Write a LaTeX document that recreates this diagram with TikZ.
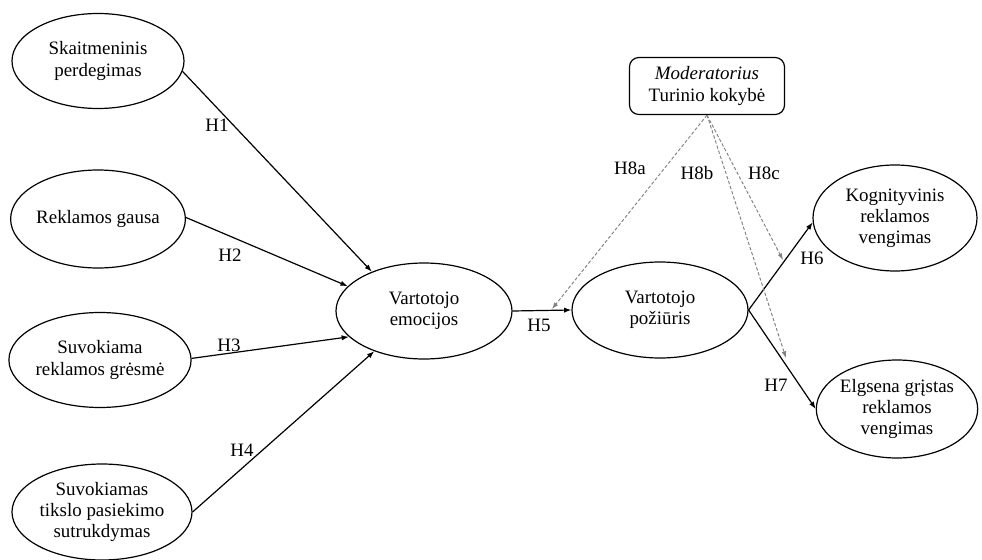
\documentclass[tikz,border=0pt]{standalone}
\usepackage{fontspec}
\setmainfont{Liberation Serif}
\newfontfamily\diagfont{Liberation Serif}
\usetikzlibrary{arrows.meta,shapes.geometric}
\begin{document}
\begin{tikzpicture}[x=0.75pt,y=-0.75pt,
  font=\diagfont\fontsize{14.2}{15.8}\selectfont,
  var/.style args={#1/#2}{draw,ellipse,line width=0.9pt,align=center,inner sep=0pt,
    minimum width=#1*0.75pt,minimum height=#2*0.75pt},
  link/.style={line width=0.9pt,-{Latex[length=5.5pt,width=4pt]}},
  modlink/.style={draw=gray,line width=0.7pt,dash pattern=on 2.5pt off 1.5pt,
    -{Latex[length=5pt,width=3.5pt]}},
  lab/.style={inner sep=0pt}
]
\useasboundingbox (0,0) rectangle (982,560);

% constructs
\node[var=172/95]  (s1)  at (98,61)   {Skaitmeninis\\perdegimas};
\node[var=172/98]  (s2)  at (98,219)  {Reklamos gausa};
\node[var=176/95]  (s3)  at (100,360) {Suvokiama\\reklamos grėsmė};
\node[var=180/96]  (s4)  at (102,512) {Suvokiamas\\tikslo pasiekimo\\sutrukdymas};
\node[var=176/96]  (emo) at (424,311) {Vartotojo\\emocijos};
\node[var=176/96]  (att) at (660,310) {Vartotojo\\požiūris};
\node[var=164/106] (kog) at (895,218) {Kognityvinis\\reklamos\\vengimas};
\node[var=160/98]  (elg) at (897,409) {Elgsena grįstas\\reklamos\\vengimas};

% moderator
\node[draw,line width=0.9pt,rounded corners=7pt,align=center,inner sep=0pt,
      minimum width=155*0.75pt,minimum height=57*0.75pt] (mod) at (707,86)
      {\textit{Moderatorius}\\Turinio kokybė};

% hypothesised paths
\draw[link] (s1.-7)  -- (emo.143);
\draw[link] (s2.1)   -- (emo.162);
\draw[link] (s3.1)   -- (emo.199);
\draw[link] (s4.0)   -- (emo.219);
\draw[link] (emo.east) -- (att.west);
\draw[link] (att.east) -- (kog.183);
\draw[link] (att.east) -- (elg.west);

% moderation targets
\coordinate (t8a) at (552,309);
\coordinate (t8b) at (786,358);
\coordinate (t8c) at (783,260);
\draw[modlink] (mod.south) -- (t8a);
\draw[modlink] (mod.south) -- (t8b);
\draw[modlink] (mod.south) -- (t8c);

% labels
\node[lab] (l1) at (217,125) {H1};
\node[lab] (l2) at (230,255) {H2};
\node[lab] (l3) at (229,345) {H3};
\node[lab] (l4) at (242,450) {H4};
\node[lab] (l5) at (539,325) {H5};
\node[lab] (l6) at (812,258) {H6};
\node[lab] (l7) at (776,385) {H7};
\node[lab] (l8a) at (630,168) {H8a};
\node[lab] (l8b) at (697,173) {H8b};
\node[lab] (l8c) at (764,173) {H8c};
\end{tikzpicture}
\end{document}
